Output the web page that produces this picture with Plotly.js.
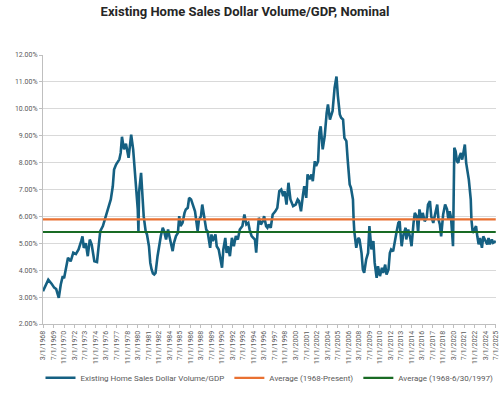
<!DOCTYPE html>
<html>
<head>
<meta charset="utf-8">
<script src="https://cdn.plot.ly/plotly-3.0.1.min.js"></script>
<style>
  html, body { margin: 0; padding: 0; background: #ffffff; }
  #chart { width: 500px; height: 397px; }
</style>
</head>
<body>
<div id="chart"></div>
<script>
// Existing home sales dollar volume as a share of nominal GDP (percent)
const months = [
  '1968-03','1968-06','1968-11','1969-04','1969-08','1969-11','1970-03','1970-06','1970-09','1970-11',
  '1971-02','1971-05','1971-09','1972-01','1972-05','1972-09','1973-01','1973-03','1973-05','1973-08',
  '1973-11','1974-02','1974-05','1974-09','1975-01','1975-04','1975-06','1975-10','1976-01','1976-04',
  '1976-07','1976-10','1977-01','1977-03','1977-06','1977-08','1977-11','1978-01','1978-03','1978-06',
  '1978-09','1979-01','1979-05','1979-08','1979-10','1979-12','1980-01','1980-03','1980-04','1980-05',
  '1980-08','1980-10','1980-12','1981-03','1981-05','1981-08','1981-10','1981-12','1982-02','1982-04',
  '1982-06','1982-09','1982-12','1983-02','1983-05','1983-07','1983-10','1984-01','1984-03','1984-05',
  '1984-08','1984-10','1985-01','1985-04','1985-06','1985-08','1985-11','1986-02','1986-04','1986-07',
  '1986-09','1986-12','1987-03','1987-06','1987-10','1987-12','1988-03','1988-05','1988-07','1988-11',
  '1989-01','1989-05','1989-07','1989-09','1990-01','1990-03','1990-06','1990-08','1990-11','1991-01',
  '1991-04','1991-06','1991-08','1991-11','1992-02','1992-05','1992-08','1992-11','1993-02','1993-06',
  '1993-09','1993-12','1994-03','1994-05','1994-08','1995-01','1995-03','1995-05','1995-07','1995-10',
  '1996-01','1996-03','1996-06','1996-08','1996-10','1997-01','1997-04','1997-08','1997-11','1998-02',
  '1998-05','1998-08','1998-10','1999-01','1999-04','1999-07','1999-11','2000-03','2000-06','2000-08',
  '2000-11','2001-02','2001-04','2001-07','2001-09','2001-12','2002-03','2002-05','2002-08','2002-10',
  '2003-01','2003-03','2003-05','2003-08','2003-11','2004-02','2004-04','2004-07','2004-09','2004-11',
  '2005-02','2005-05','2005-07','2005-10','2005-12','2006-03','2006-05','2006-08','2006-10','2007-01',
  '2007-03','2007-06','2007-07','2007-08','2007-11','2008-02','2008-04','2008-07','2008-09','2008-11',
  '2009-02','2009-05','2009-07','2009-10','2010-01','2010-03','2010-06','2010-08','2010-11','2011-02',
  '2011-04','2011-07','2011-09','2011-12','2012-02','2012-04','2012-07','2012-09','2012-12','2013-03',
  '2013-05','2013-06','2013-08','2013-10','2014-02','2014-03','2014-06','2014-09','2014-11','2015-02',
  '2015-04','2015-07','2015-09','2015-11','2016-02','2016-04','2016-07','2016-10','2016-12','2017-03',
  '2017-05','2017-08','2017-11','2018-02','2018-04','2018-06','2018-08','2018-11','2019-02','2019-05',
  '2019-07','2019-09','2019-11','2020-02','2020-04','2020-06','2020-08','2020-10','2020-12','2021-02',
  '2021-04','2021-06','2021-08','2021-10','2021-12','2022-02','2022-05','2022-06','2022-08','2022-10',
  '2023-01','2023-03','2023-05','2023-07','2023-10','2023-12','2024-03','2024-06','2024-08','2024-10',
  '2025-01','2025-03','2025-07'
];

const ratio = [
  3.22,3.41,3.65,3.50,3.35,3.30,2.97,3.47,3.78,3.70,
  4.15,4.46,4.33,4.65,4.60,4.77,5.08,5.26,4.83,5.00,
  4.52,5.14,4.95,4.33,4.30,4.89,5.45,5.64,5.88,6.13,
  6.44,6.63,7.12,7.74,7.93,7.99,8.12,8.36,8.96,8.49,
  8.70,8.18,9.04,8.49,7.74,7.12,6.90,6.26,5.45,6.90,
  7.62,6.87,6.00,5.45,5.33,4.89,4.27,4.03,3.88,3.84,
  3.90,4.52,5.08,5.27,5.58,5.45,5.14,5.51,5.27,5.08,
  4.71,5.02,5.27,5.39,6.01,5.64,5.76,6.13,6.26,6.32,
  6.69,6.63,6.44,6.19,5.45,5.88,6.00,6.44,6.13,5.51,
  5.45,4.83,5.33,5.08,5.33,4.89,4.77,4.46,4.09,4.77,
  5.20,4.64,4.89,4.52,5.20,4.89,5.27,5.14,5.51,5.64,
  6.07,5.70,5.76,5.51,5.27,5.14,4.65,5.39,5.95,5.70,
  5.82,6.01,5.64,5.58,5.70,5.58,6.07,6.19,6.32,6.94,
  7.00,6.75,6.94,6.44,7.25,6.63,6.38,6.44,6.63,6.57,
  6.19,6.81,7.12,6.69,7.56,7.38,7.56,7.31,8.05,7.87,
  8.05,9.11,9.35,8.49,8.98,9.85,10.16,9.60,9.79,9.92,
  10.78,11.20,10.50,9.79,9.67,9.60,8.92,8.80,8.10,7.19,
  7.06,6.63,5.90,5.45,4.83,5.20,5.14,4.64,4.03,3.90,
  4.40,4.64,5.64,4.77,5.08,4.28,3.72,4.15,3.78,4.09,
  3.90,4.21,3.84,4.03,4.64,4.77,4.70,5.02,5.39,5.76,
  5.82,5.45,4.89,5.26,5.58,5.14,5.51,5.20,4.89,5.76,
  6.13,6.00,5.39,6.26,5.88,6.13,5.82,5.95,6.44,6.57,
  6.00,5.76,6.13,6.44,5.88,5.70,5.26,6.07,6.44,6.26,
  5.88,6.19,5.95,4.89,8.55,8.42,8.05,7.99,8.24,8.36,
  8.11,8.36,8.67,7.99,7.68,7.37,6.63,5.88,5.39,5.51,
  5.64,5.26,4.96,5.20,4.83,5.26,5.08,4.96,5.20,4.96,
  5.14,5.02,5.08
];

// Long-run averages (percent)
const avgFullPeriod = 5.89;   // 1968-present
const avgTo1997 = 5.42;       // 1968 through 6/30/1997

const seriesNames = [
  'Existing Home Sales Dollar Volume/GDP',
  'Average (1968-Present)',
  'Average (1968-6/30/1997)'
];

const xStart = '1968-03-01';
const xEnd = '2025-07-01';
// a few days of padding so the last date label is kept
const axisEnd = '2025-07-12';

// Date labels every 16 months, written as m/d/yyyy
const tickStepMonths = 16;
const tickVals = [];
const tickText = [];
for (let y = 1968, m = 3; y * 12 + m <= 2025 * 12 + 7; m += tickStepMonths) {
  while (m > 12) { m -= 12; y += 1; }
  if (y * 12 + m > 2025 * 12 + 7) break;
  tickVals.push(y + '-' + String(m).padStart(2, '0') + '-01');
  tickText.push(m + '/1/' + y);
}

const textFont = 'Roboto, "Liberation Sans", Arial, sans-serif';
const tickGray = '#595959';

const traces = [
  {
    x: months.map(m => m + '-01'),
    y: ratio,
    type: 'scatter',
    mode: 'lines',
    name: seriesNames[0],
    line: { color: '#156082', width: 2.6 }
  },
  {
    x: [xStart, xEnd],
    y: [avgFullPeriod, avgFullPeriod],
    type: 'scatter',
    mode: 'lines',
    name: seriesNames[1],
    line: { color: '#E97132', width: 2.2 }
  },
  {
    x: [xStart, xEnd],
    y: [avgTo1997, avgTo1997],
    type: 'scatter',
    mode: 'lines',
    name: seriesNames[2],
    line: { color: '#196B24', width: 2.2 }
  }
];

const layout = {
  width: 500,
  height: 397,
  margin: { l: 43, r: 4, t: 55, b: 73 },
  paper_bgcolor: '#ffffff',
  plot_bgcolor: '#ffffff',
  showlegend: true,
  title: {
    text: '<b>Existing Home Sales Dollar Volume/GDP, Nominal</b>',
    font: { family: textFont, size: 13, color: '#262626' },
    x: 0.49,
    xanchor: 'center',
    y: 0.972,
    yanchor: 'middle'
  },
  xaxis: {
    type: 'date',
    range: [xStart, axisEnd],
    tickmode: 'array',
    tickvals: tickVals,
    ticktext: tickText,
    tickangle: -90,
    ticklabeloverflow: 'allow',
    tickfont: { family: textFont, size: 7, color: tickGray },
    ticks: 'outside',
    ticklen: 3,
    tickcolor: '#bfbfbf',
    showgrid: false,
    showline: true,
    linecolor: '#bfbfbf',
    linewidth: 1,
    zeroline: false,
    fixedrange: true
  },
  yaxis: {
    range: [2, 12],
    dtick: 1,
    tickformat: '.2f',
    ticksuffix: '%',
    tickfont: { family: textFont, size: 7, color: tickGray },
    ticks: 'outside',
    ticklen: 3,
    tickcolor: '#bfbfbf',
    showgrid: true,
    gridcolor: '#d9d9d9',
    gridwidth: 1,
    showline: true,
    linecolor: '#bfbfbf',
    linewidth: 1,
    zeroline: false,
    fixedrange: true
  },
  legend: {
    orientation: 'h',
    x: 0.5,
    xanchor: 'center',
    y: -0.2,
    yanchor: 'middle',
    font: { family: textFont, size: 8, color: tickGray },
    itemwidth: 30,
    traceorder: 'normal',
    bgcolor: 'rgba(0,0,0,0)'
  }
};

Plotly.newPlot('chart', traces, layout, { displayModeBar: false, staticPlot: true });
</script>
</body>
</html>
